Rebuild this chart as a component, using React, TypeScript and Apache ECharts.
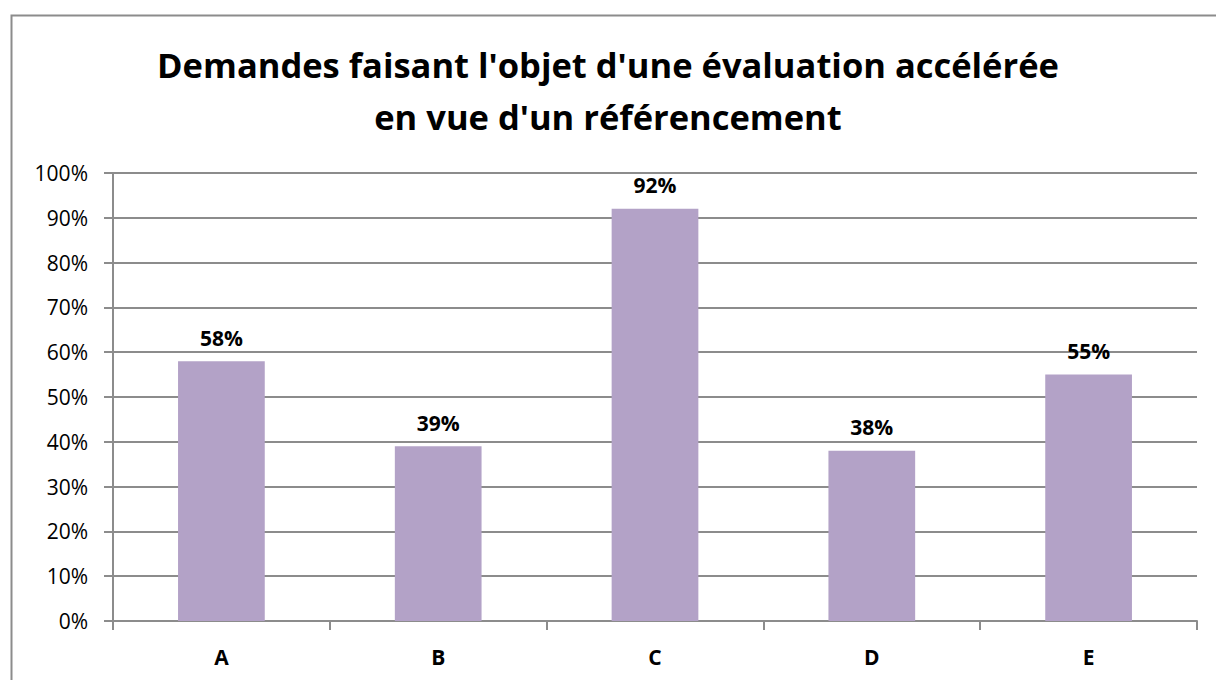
import React, { useEffect, useRef } from "react";
import * as echarts from "echarts";

const categories = ["A", "B", "C", "D", "E"];
const values = [58, 39, 92, 38, 55];
const yTicks = [0, 10, 20, 30, 40, 50, 60, 70, 80, 90, 100];
const titleLines = [
  "Demandes faisant l'objet d'une évaluation accélérée",
  "en vue d'un référencement",
];

export default function App() {
  const ref = useRef<HTMLDivElement>(null);
  useEffect(() => {
    document.body.style.margin = "0";
    const chart = echarts.init(ref.current!, null, { renderer: "svg" });
    const font = "'Open Sans', 'Noto Sans', sans-serif";
    chart.setOption({
      animation: false,
      backgroundColor: "#ffffff",
      textStyle: { fontFamily: font },
      title: {
        text: titleLines.join("\n"),
        left: "center",
        top: 33,
        textStyle: {
          fontFamily: font,
          fontWeight: "bold",
          fontSize: 34.5,
          lineHeight: 52,
          color: "#000",
        },
      },
      graphic: [
        {
          type: "rect",
          shape: { x: 11.5, y: 15.5, width: 1400, height: 900 },
          style: { fill: "none", stroke: "#8c8c8c", lineWidth: 2 },
          silent: true,
        },
      ],
      grid: { left: 113, top: 173, right: 19, bottom: 59 },
      xAxis: {
        type: "category",
        data: categories,
        axisLine: { lineStyle: { color: "#8c8c8c", width: 2 } },
        axisTick: { show: true, length: 9, interval: 0, lineStyle: { color: "#8c8c8c", width: 2 } },
        axisLabel: { margin: 25, fontSize: 21, fontWeight: "bold", color: "#000", fontFamily: font },
      },
      yAxis: {
        type: "value",
        min: yTicks[0],
        max: yTicks[yTicks.length - 1],
        interval: 10,
        axisLine: { show: true, lineStyle: { color: "#8c8c8c", width: 2 } },
        axisTick: { show: true, length: 9, lineStyle: { color: "#8c8c8c", width: 2 } },
        axisLabel: {
          margin: 25,
          fontSize: 21,
          color: "#000",
          fontFamily: font,
          formatter: (v: number) => v + "%",
        },
        splitLine: { show: true, lineStyle: { color: "#8c8c8c", width: 2 } },
      },
      series: [
        {
          type: "bar",
          data: values,
          barWidth: "40%",
          itemStyle: { color: "#b3a2c7" },
          label: {
            show: true,
            position: "top",
            distance: 13,
            formatter: "{c}%",
            fontSize: 21,
            fontWeight: "bold",
            color: "#000",
            fontFamily: font,
          },
        },
      ],
    });
    return () => chart.dispose();
  }, []);
  return <div ref={ref} style={{ width: 1216, height: 680 }} />;
}
